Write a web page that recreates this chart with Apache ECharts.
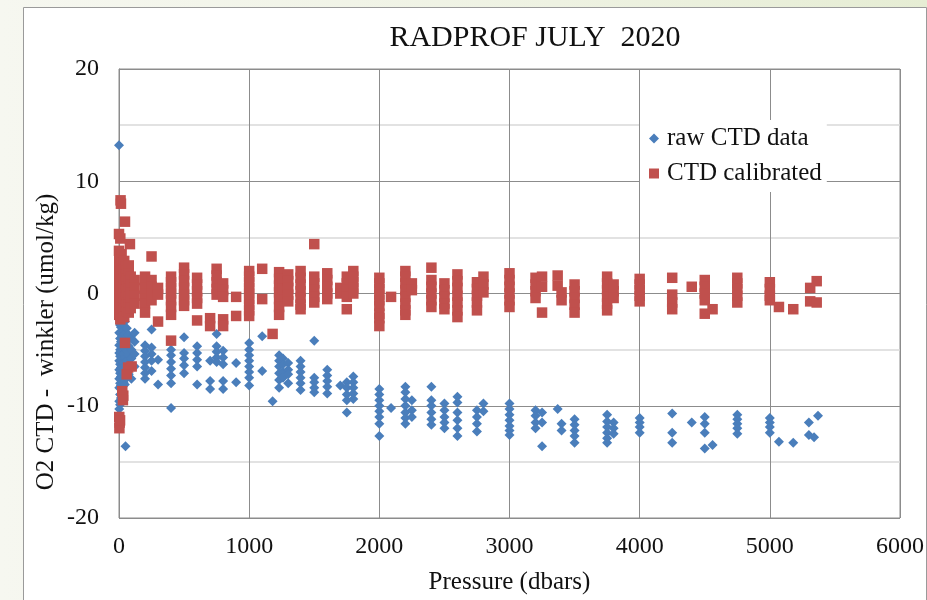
<!DOCTYPE html>
<html>
<head>
<meta charset="utf-8">
<script src="https://cdn.jsdelivr.net/npm/echarts@6/dist/echarts.min.js"></script>
<style>
  html, body { margin: 0; padding: 0; }
  body {
    width: 927px; height: 600px; overflow: hidden;
    background: linear-gradient(90deg, #f6f7f0 0%, #eef2e2 60%, #e6edd4 100%);
  }
  #chart { width: 927px; height: 600px; }
</style>
</head>
<body>
<div id="chart"></div>
<script>
// Oxygen offset, CTD minus Winkler (umol/kg), versus pressure (dbar)
const chartTitle = 'RADPROF JULY  2020';
const xTitle = 'Pressure (dbars)';
const yTitle = 'O2 CTD -  winkler (umol/kg)';
const seriesNames = ['raw CTD data', 'CTD calibrated'];

// [pressure, offset] pairs, raw CTD
const rawCtd = [
  [0, 13.2], [50, -13.6],
  [2, -2.3], [2, -3.5], [2, -4.6], [2, -5.3], [2, -6.0], [2, -6.8], [2, -7.6], [2, -8.4], [2, -9.6], [2, -10.3],
  [8, -2.8], [8, -4.0], [8, -5.0], [8, -5.6], [8, -6.3], [8, -7.1], [8, -8.0], [8, -9.0], [8, -9.9],
  [15, -3.0], [15, -4.3], [15, -5.2], [15, -5.9], [15, -6.6], [15, -7.4], [15, -8.2], [15, -9.3],
  [25, -2.6], [25, -3.8], [25, -4.8], [25, -5.5], [25, -6.1], [25, -6.9], [25, -7.7], [25, -8.6],
  [35, -3.3], [35, -4.5], [35, -5.4], [35, -6.2], [35, -7.0], [35, -7.9],
  [45, -2.5], [45, -3.6], [45, -4.9], [45, -5.7], [45, -6.4], [45, -7.3], [45, -8.1],
  [60, -3.1], [60, -4.2], [60, -5.1], [60, -6.0], [60, -6.8], [60, -7.5],
  [75, -3.7], [75, -4.7], [75, -5.5], [75, -6.3], [75, -7.2],
  [95, -4.0], [95, -5.0], [95, -5.8], [95, -6.6], [95, -7.6],
  [120, -3.5], [120, -4.3], [120, -5.4], [120, -6.5],
  [200, -4.6], [200, -5.1], [200, -5.6], [200, -6.1], [200, -6.6], [200, -7.1], [200, -7.6],
  [250, -3.2], [250, -4.8], [250, -5.4], [250, -6.0], [250, -6.9],
  [300, -5.9], [300, -8.1],
  [400, -5.0], [400, -5.5], [400, -6.1], [400, -6.7], [400, -7.3], [400, -8.0], [400, -10.2],
  [500, -3.9], [500, -5.3], [500, -5.8], [500, -6.4], [500, -7.1],
  [600, -4.7], [600, -5.3], [600, -5.9], [600, -6.5], [600, -8.1],
  [700, -6.0], [700, -7.8], [700, -8.5],
  [750, -3.6], [750, -4.7], [750, -5.2], [750, -5.7], [750, -6.1],
  [800, -5.1], [800, -5.7], [800, -6.3], [800, -7.8], [800, -8.5],
  [900, -6.2], [900, -7.9],
  [1000, -4.4], [1000, -5.0], [1000, -5.5], [1000, -6.0], [1000, -6.5], [1000, -7.0], [1000, -7.5], [1000, -8.2],
  [1100, -3.8], [1100, -6.9],
  [1180, -9.6],
  [1230, -5.5], [1230, -6.0], [1230, -6.5], [1230, -7.1], [1230, -7.7], [1230, -8.4],
  [1260, -5.8], [1260, -6.3], [1260, -7.0], [1260, -7.5],
  [1300, -6.2], [1300, -6.8], [1300, -7.2], [1300, -8.0],
  [1395, -6.0], [1395, -6.5], [1395, -7.0], [1395, -7.5], [1395, -8.0], [1395, -8.6],
  [1500, -4.2], [1500, -7.5], [1500, -7.9], [1500, -8.4], [1500, -8.8],
  [1600, -6.8], [1600, -7.3], [1600, -7.8], [1600, -8.3], [1600, -8.9],
  [1700, -8.2],
  [1750, -7.9], [1750, -8.4], [1750, -9.0], [1750, -9.5], [1750, -10.6],
  [1800, -7.4], [1800, -7.9], [1800, -8.4], [1800, -8.9], [1800, -9.4],
  [2000, -8.5], [2000, -9.0], [2000, -9.5], [2000, -10.0], [2000, -10.5], [2000, -11.0], [2000, -11.6], [2000, -12.7],
  [2090, -10.2],
  [2200, -8.3], [2200, -8.8], [2200, -9.4], [2200, -10.0], [2200, -10.6], [2200, -11.1], [2200, -11.6],
  [2250, -9.5], [2250, -10.4], [2250, -11.0],
  [2400, -8.3], [2400, -9.5], [2400, -10.0], [2400, -10.6], [2400, -11.2], [2400, -11.7],
  [2500, -9.8], [2500, -10.4], [2500, -11.0], [2500, -11.5], [2500, -12.0],
  [2600, -9.2], [2600, -9.7], [2600, -10.6], [2600, -11.3], [2600, -12.0], [2600, -12.7],
  [2750, -10.4], [2750, -11.0], [2750, -11.6], [2750, -12.3],
  [2800, -9.8], [2800, -10.5],
  [3000, -9.8], [3000, -10.3], [3000, -10.8], [3000, -11.3], [3000, -11.8], [3000, -12.2], [3000, -12.6],
  [3200, -10.4], [3200, -10.9], [3200, -11.5], [3200, -12.0],
  [3250, -10.6], [3250, -11.5], [3250, -13.6],
  [3370, -10.3],
  [3400, -11.6], [3400, -12.2],
  [3500, -11.2], [3500, -11.7], [3500, -12.2], [3500, -12.7], [3500, -13.3],
  [3750, -10.8], [3750, -11.4], [3750, -11.9], [3750, -12.4], [3750, -12.9], [3750, -13.3],
  [3800, -11.5], [3800, -12.0], [3800, -12.5],
  [4000, -11.1], [4000, -11.5], [4000, -11.9], [4000, -12.4],
  [4250, -10.7], [4250, -12.4], [4250, -13.3],
  [4400, -11.5],
  [4500, -11.0], [4500, -11.6], [4500, -12.4], [4500, -13.8],
  [4560, -13.5],
  [4750, -10.8], [4750, -11.2], [4750, -11.6], [4750, -12.0], [4750, -12.5],
  [5000, -11.1], [5000, -11.5], [5000, -11.9], [5000, -12.4],
  [5070, -13.2],
  [5180, -13.3],
  [5300, -11.5], [5300, -12.6],
  [5340, -12.8],
  [5370, -10.9]
];

// [pressure, offset] pairs, calibrated CTD
const ctdCalibrated = [
  [12, 8.3], [15, 8.0], [46, 6.4], [0, 5.3], [10, 4.9], [84, 4.4], [0, 3.8], [20, 3.5],
  [2, 3.0], [2, 2.3], [2, 1.6], [2, 0.9], [2, 0.2], [2, -0.5], [2, -1.2], [2, -1.9],
  [10, 2.6], [10, 1.9], [10, 1.2], [10, 0.5], [10, -0.2], [10, -0.9], [10, -1.6], [10, -2.3],
  [20, 2.7], [20, 2.0], [20, 1.3], [20, 0.6], [20, -0.1], [20, -0.8], [20, -1.5],
  [30, 2.2], [30, 1.5], [30, 0.8], [30, 0.1], [30, -0.6], [30, -1.3], [30, -2.0],
  [40, 2.9], [40, 2.1], [40, 1.4], [40, 0.7], [40, 0.0], [40, -0.7], [40, -1.4], [40, -2.1],
  [50, 2.4], [50, 1.7], [50, 1.0], [50, 0.3], [50, -0.4], [50, -1.1],
  [60, 2.0], [60, 1.3], [60, 0.6], [60, -0.1], [60, -0.8], [60, -1.6],
  [75, 2.5], [75, 1.8], [75, 1.1], [75, 0.4], [75, -0.3], [75, -1.0], [75, -1.7],
  [90, 1.5], [90, 0.8], [90, 0.1], [90, -0.6], [90, -1.3],
  [120, 1.2], [120, 0.5], [120, -0.2], [120, -0.9],
  [46, -4.4], [97, -6.5], [70, -6.6], [59, -7.2], [33, -9.1], [25, -8.7], [30, -9.5],
  [2, -11.0], [5, -11.5], [3, -12.0], [8, -11.3],
  [200, 1.5], [200, 1.0], [200, 0.5], [200, 0.0], [200, -0.5], [200, -0.9], [200, -1.7],
  [250, 3.3], [250, 1.2], [250, 0.6], [250, 0.0], [250, -0.6],
  [300, 0.5], [300, -0.1], [300, -2.5],
  [400, 1.5], [400, 1.0], [400, 0.5], [400, 0.0], [400, -0.6], [400, -1.2], [400, -1.9], [400, -4.2],
  [500, 2.3], [500, 1.7], [500, 1.1], [500, 0.5], [500, -0.1], [500, -0.6], [500, -1.1],
  [600, 1.4], [600, 0.8], [600, 0.2], [600, -0.4], [600, -0.9], [600, -2.4],
  [700, -2.2], [700, -2.9],
  [750, 2.2], [750, 1.6], [750, 1.0], [750, 0.4], [750, -0.1],
  [800, 0.9], [800, 0.3], [800, -0.3], [800, -2.3], [800, -2.9],
  [900, -0.3], [900, -2.0],
  [1000, 2.0], [1000, 1.5], [1000, 1.0], [1000, 0.5], [1000, 0.0], [1000, -0.5], [1000, -1.0], [1000, -1.5], [1000, -2.0],
  [1100, 2.2], [1100, -0.5],
  [1180, -3.6],
  [1230, 1.9], [1230, 1.3], [1230, 0.7], [1230, 0.1], [1230, -0.5], [1230, -1.2], [1230, -1.9],
  [1260, 1.0], [1260, 0.4],
  [1300, 1.7], [1300, 1.1], [1300, 0.5], [1300, -0.1], [1300, -0.7],
  [1395, 2.0], [1395, 1.4], [1395, 0.8], [1395, 0.2], [1395, -0.4], [1395, -1.0], [1395, -1.4],
  [1500, 4.4], [1500, 1.5], [1500, 0.9], [1500, 0.3], [1500, -0.3], [1500, -0.8],
  [1600, 1.8], [1600, 1.2], [1600, 0.6], [1600, 0.0], [1600, -0.5],
  [1700, 0.5], [1700, 0.0],
  [1750, 1.5], [1750, 0.9], [1750, 0.3], [1750, -0.3], [1750, -1.4],
  [1800, 2.0], [1800, 1.5], [1800, 1.0], [1800, 0.5], [1800, 0.0],
  [2000, 1.4], [2000, 0.9], [2000, 0.4], [2000, -0.1], [2000, -0.6], [2000, -1.1], [2000, -1.8], [2000, -2.2], [2000, -2.9],
  [2090, -0.3],
  [2200, 2.0], [2200, 1.5], [2200, 0.9], [2200, 0.3], [2200, -0.3], [2200, -0.9], [2200, -1.5], [2200, -1.9],
  [2250, 0.9], [2250, 0.3],
  [2400, 2.3], [2400, 1.2], [2400, 0.6], [2400, 0.0], [2400, -0.6], [2400, -1.2],
  [2500, 0.9], [2500, 0.3], [2500, -0.3], [2500, -0.9], [2500, -1.4],
  [2600, 1.7], [2600, 1.1], [2600, 0.5], [2600, -0.2], [2600, -0.8], [2600, -1.5], [2600, -2.1],
  [2750, 1.0], [2750, 0.4], [2750, -0.2], [2750, -0.8], [2750, -1.5],
  [2800, 1.5], [2800, 0.8], [2800, 0.1],
  [3000, 1.8], [3000, 1.2], [3000, 0.6], [3000, 0.0], [3000, -0.6], [3000, -1.2],
  [3200, 1.4], [3200, 0.8], [3200, 0.2], [3200, -0.4],
  [3250, 1.5], [3250, 0.6], [3250, -1.7],
  [3370, 1.6], [3370, 0.7],
  [3400, 0.1], [3400, -0.6],
  [3500, 0.8], [3500, 0.2], [3500, -0.4], [3500, -1.0], [3500, -1.7],
  [3750, 1.5], [3750, 0.9], [3750, 0.3], [3750, -0.3], [3750, -0.9], [3750, -1.5],
  [3800, 0.8], [3800, 0.2], [3800, -0.4],
  [4000, 1.3], [4000, 0.8], [4000, 0.3], [4000, -0.2], [4000, -0.7],
  [4250, 1.4], [4250, -0.1], [4250, -0.8], [4250, -1.4],
  [4400, 0.6],
  [4500, 1.2], [4500, 0.6], [4500, 0.0], [4500, -0.6], [4500, -1.8],
  [4560, -1.4],
  [4750, 1.4], [4750, 0.9], [4750, 0.4], [4750, -0.2], [4750, -0.8],
  [5000, 1.0], [5000, 0.4], [5000, -0.2], [5000, -0.6],
  [5070, -1.2],
  [5180, -1.4],
  [5310, 0.5], [5310, -0.7],
  [5360, 1.1], [5360, -0.8]
];

const serif = '"Liberation Serif", "Times New Roman", serif';
const gridDark = '#8c8c8c';
const gridLight = '#d9d9d9';
const blue = '#4a7ebb';
const red = '#c0504d';

const chart = echarts.init(document.getElementById('chart'), null, { renderer: 'canvas' });

chart.setOption({
  backgroundColor: 'transparent',
  animation: false,
  title: {
    text: chartTitle,
    left: 530, top: 18, textAlign: 'center',
    textStyle: { fontFamily: serif, fontSize: 30, fontWeight: 'normal', color: '#111' }
  },
  legend: {
    orient: 'vertical',
    left: 640, top: 120,
    padding: [6, 5, 6, 9],
    backgroundColor: '#ffffff',
    itemWidth: 10, itemHeight: 10, itemGap: 10,
    textStyle: { fontFamily: serif, fontSize: 25, color: '#111', lineHeight: 24, padding: [0, 0, 0, 3] },
    data: [
      { name: seriesNames[0], icon: 'diamond', itemStyle: { color: blue, opacity: 1 } },
      { name: seriesNames[1], icon: 'rect', itemStyle: { color: red, opacity: 1 } }
    ]
  },
  graphic: [
    {
      type: 'rect', z: -10, silent: true,
      shape: { x: 23.5, y: 7.5, width: 903, height: 600 },
      style: { fill: '#ffffff', stroke: '#9a9a9a', lineWidth: 1 }
    },
    {
      type: 'text', silent: true,
      x: 46, y: 342, rotation: Math.PI / 2,
      style: {
        text: yTitle, fontFamily: serif, fontSize: 25, fill: '#111',
        align: 'center', verticalAlign: 'middle'
      }
    }
  ],
  grid: {
    left: 119, top: 69, right: 21, bottom: 81,
    show: true, borderColor: gridDark, borderWidth: 1, backgroundColor: 'transparent'
  },
  xAxis: {
    type: 'value', min: 0, max: 6000, interval: 1000,
    name: xTitle, nameLocation: 'middle', nameGap: 52,
    nameTextStyle: { fontFamily: serif, fontSize: 25, color: '#111' },
    axisLine: { show: true, lineStyle: { color: gridDark } },
    axisTick: { show: false },
    axisLabel: {
      fontFamily: serif, fontSize: 24, color: '#111', margin: 17,
      formatter: (v) => String(v)
    },
    splitLine: { show: true, lineStyle: { color: gridDark, width: 1 } }
  },
  yAxis: {
    type: 'value', min: -20, max: 20, interval: 10,
    axisLine: { show: true, lineStyle: { color: gridDark } },
    axisTick: { show: false },
    axisLabel: {
      fontFamily: serif, fontSize: 24, color: '#111', margin: 20,
      formatter: (v) => String(v)
    },
    splitLine: { show: true, lineStyle: { color: gridDark, width: 1 } },
    minorTick: { show: false, splitNumber: 2 },
    minorSplitLine: { show: true, lineStyle: { color: gridLight, width: 1.5 } }
  },
  series: [
    {
      name: seriesNames[0], type: 'scatter', data: rawCtd,
      symbol: 'diamond', symbolSize: 10,
      itemStyle: { color: blue, opacity: 1 }, z: 3
    },
    {
      name: seriesNames[1], type: 'scatter', data: ctdCalibrated,
      symbol: 'rect', symbolSize: 10.5,
      itemStyle: { color: red, opacity: 1 }, z: 4
    }
  ]
});
</script>
</body>
</html>
